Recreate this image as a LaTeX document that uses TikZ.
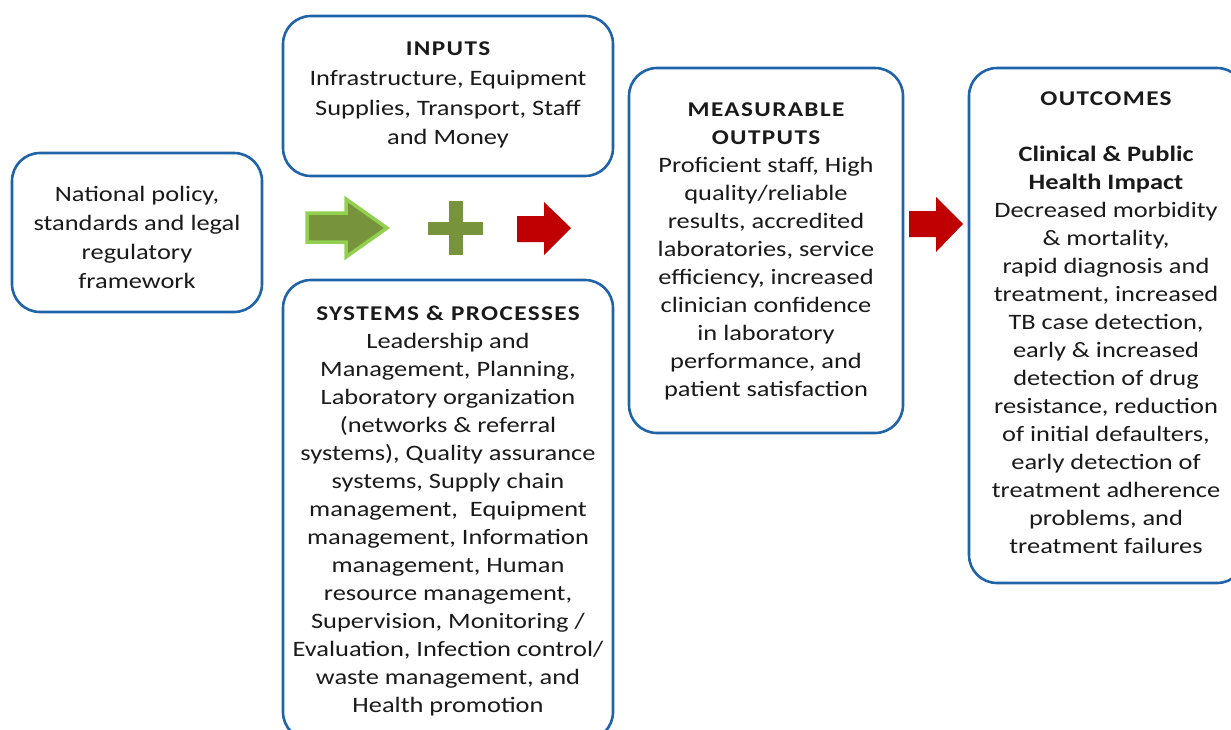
\documentclass[tikz,border=0pt]{standalone}
\usepackage{fontspec}
\setmainfont{Carlito}
\definecolor{boxblue}{HTML}{1F64A8}
\definecolor{txt}{HTML}{1A1A1A}
\definecolor{olive}{HTML}{77933C}
\definecolor{lgreen}{HTML}{92D050}
\definecolor{ared}{HTML}{C00000}
\newcommand\hdfont{\fontsize{21}{28}\selectfont\bfseries\addfontfeature{LetterSpace=5.5}}
\tikzset{
  box/.style={draw=boxblue, line width=2.6pt, rounded corners=28pt, fill=white},
  body/.style={align=center, inner sep=0pt, anchor=north, text=txt,
    font=\fontsize{22}{28}\selectfont, xscale=1.2, transform shape}
}
\begin{document}
\begin{tikzpicture}[x=1pt,y=-1pt]
\useasboundingbox (0,0) rectangle (1231,729);
\clip (0,0) rectangle (1231,729);
% boxes
\draw[box] (12,153) rectangle (262,312);
\node[inner sep=0] (policy) at (137,232) {};
\draw[box] (283,16) rectangle (613,176);
\node[inner sep=0] (inputs) at (448,96) {};
\draw[box] (283,280) rectangle (613,740);
\node[inner sep=0] (systems) at (448,510) {};
\draw[box] (629,68) rectangle (903,433);
\node[inner sep=0] (outputs) at (766,250) {};
\draw[box] (969,68) rectangle (1245,583);
\node[inner sep=0] (outcomes) at (1106,325) {};
% texts
\node[body, font=\fontsize{22}{29}\selectfont] (tpolicy) at (137,186) {National policy,\\standards and legal\\regulatory\\framework};
\node[body, font=\fontsize{22}{29.6}\selectfont] (tinputs) at (448,42) {{\hdfont INPUTS}\\Infrastructure, Equipment\\Supplies, Transport, Staff\\and Money};
\node[body] (tsystems) at (448,306) {{\hdfont SYSTEMS \& PROCESSES}\\Leadership and\\Management, Planning,\\Laboratory organization\\(networks \& referral\\systems), Quality assurance\\systems, Supply chain\\management,\ \ Equipment\\management, Information\\management, Human\\resource management,\\Supervision, Monitoring /\\Evaluation, Infection control/\\waste management, and\\Health promotion};
\node[body] (toutputs) at (766,103) {{\hdfont MEASURABLE}\\{\hdfont OUTPUTS}\\Proficient staff, High\\quality/reliable\\results, accredited\\laboratories, service\\efficiency, increased\\clinician confidence\\in laboratory\\performance, and\\patient satisfaction};
\node[body] (toutcomes) at (1106,92) {{\hdfont OUTCOMES}\\[28pt]\textbf{Clinical \& Public}\\\textbf{Health Impact}\\Decreased morbidity\\\& mortality,\\rapid diagnosis and\\treatment, increased\\TB case detection,\\early \& increased\\detection of drug\\resistance, reduction\\of initial defaulters,\\early detection of\\treatment adherence\\problems, and\\treatment failures};
% arrows
\draw[fill=olive, draw=lgreen, line width=3.5pt, line join=miter]
  (307,213) -- (346,213) -- (346,199) -- (387,228) -- (346,257) -- (346,242) -- (307,242) -- cycle;
\fill[olive] (449,201) rectangle (463,255);
\fill[olive] (428,222) rectangle (483,235);
\fill[ared] (517,216) -- (544,216) -- (544,202) -- (571,228) -- (544,255) -- (544,242) -- (517,242) -- cycle;
\fill[ared] (909,211) -- (936,211) -- (936,197) -- (963,224) -- (936,252) -- (936,237) -- (909,237) -- cycle;
\end{tikzpicture}
\end{document}
